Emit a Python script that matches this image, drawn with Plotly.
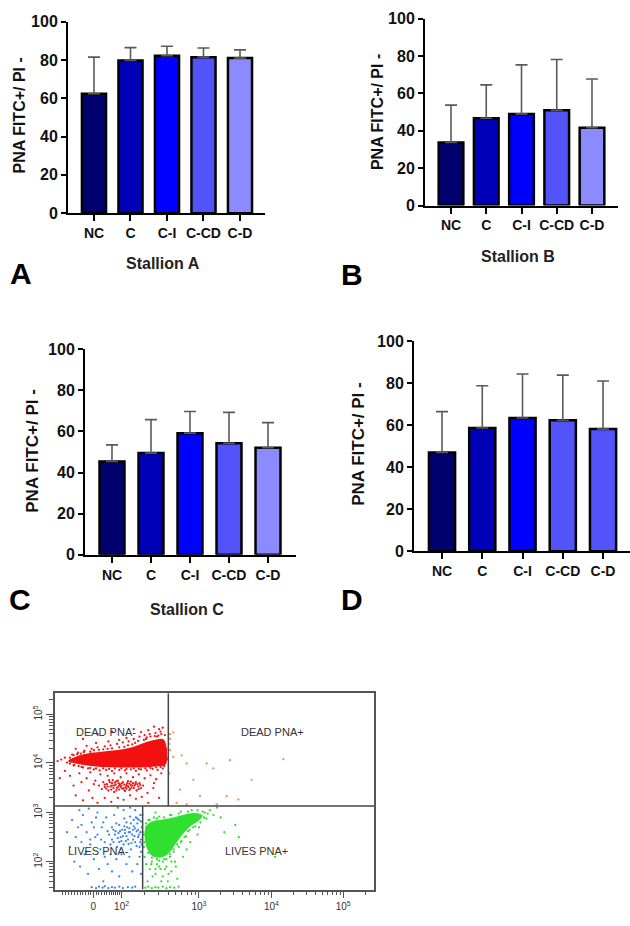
import math
import plotly.graph_objects as go

# ---------------- DATA ----------------
categories = ["NC", "C", "C-I", "C-CD", "C-D"]

stallion_a_mean = [62.4, 79.8, 82.2, 81.5, 81.0]
stallion_a_sd = [19.1, 6.7, 5.0, 4.8, 4.3]
stallion_b_mean = [33.7, 46.7, 49.0, 50.9, 41.6]
stallion_b_sd = [20.0, 17.8, 26.2, 27.2, 26.1]
stallion_c_mean = [45.4, 49.5, 59.2, 54.3, 52.1]
stallion_c_sd = [8.1, 16.3, 10.5, 15.0, 12.2]
stallion_d_mean = [47.0, 58.6, 63.4, 62.3, 58.1]
stallion_d_sd = [19.4, 20.1, 20.9, 21.5, 22.9]

bar_yticks = [0, 20, 40, 60, 80, 100]
y_title = "PNA FITC+/ PI -"

# Flow cytometry dot plot (axis units = display decades of the biexponential scale)
fc_xtick_vals = [1.543, 1.933, 3.0, 4.0, 4.99]
fc_xtick_text = ["0", "10<sup>2</sup>", "10<sup>3</sup>", "10<sup>4</sup>", "10<sup>5</sup>"]
fc_ytick_vals = [2.0, 3.0, 4.013, 5.0]
fc_ytick_text = ["10<sup>2</sup>", "10<sup>3</sup>", "10<sup>4</sup>", "10<sup>5</sup>"]
gate_pi = 3.133          # horizontal gate (PI)
gate_pna_dead = 2.577    # vertical gate, upper half
gate_pna_live = 2.223    # vertical gate, lower half
quadrant_labels = ["DEAD PNA-", "DEAD PNA+", "LIVES PNA-", "LIVES PNA+"]
quadrant_label_x = [1.717, 4.011, 1.611, 3.795]
quadrant_label_y = [4.633, 4.633, 2.213, 2.213]

# dense cores (outline of the saturated region)
red_core_x = [1.20, 1.30, 1.45, 1.65, 1.85, 2.05, 2.20, 2.35, 2.50, 2.54, 2.54, 2.40, 2.20, 1.90, 1.65, 1.45, 1.30, 1.20]
red_core_y = [4.07, 4.14, 4.20, 4.24, 4.27, 4.32, 4.40, 4.47, 4.50, 4.42, 3.98, 3.94, 3.92, 3.92, 3.93, 3.96, 4.00, 4.03]
green_core_x = [2.26, 2.35, 2.50, 2.65, 2.80, 2.95, 3.05, 3.00, 2.90, 2.80, 2.72, 2.64, 2.56, 2.45, 2.35, 2.28, 2.25]
green_core_y = [2.72, 2.82, 2.86, 2.90, 2.96, 2.99, 2.94, 2.84, 2.74, 2.60, 2.45, 2.28, 2.14, 2.08, 2.12, 2.28, 2.50]

red_x = [1.10, 1.15, 1.18, 1.25, 1.28, 1.33, 1.38, 1.42, 1.47, 1.52, 1.55, 1.60, 1.63, 1.70, 1.72, 1.78, 1.80, 1.87,
         1.90, 1.95, 1.98, 2.03, 2.06, 2.10, 2.13, 2.18, 2.20, 2.25, 2.28, 2.32, 2.36, 2.40, 2.43, 2.47, 2.50, 2.53,
         2.55, 2.56, 2.45, 2.38, 2.30, 2.20, 2.00, 1.90, 1.75, 1.58, 1.45, 1.30,
         1.62, 1.66, 1.68, 1.70, 1.73, 1.75, 1.76, 1.78, 1.80, 1.82, 1.83, 1.85, 1.86, 1.88, 1.90, 1.91, 1.93, 1.95,
         1.96, 1.98, 2.00, 2.01, 2.03, 2.05, 2.06, 2.08, 2.10, 2.12, 2.14, 2.16, 2.18, 2.20, 2.23, 1.80, 1.87, 1.92,
         1.97, 2.02, 2.07, 1.84, 1.94, 2.04,
         1.22, 1.27, 1.30, 1.35, 1.38, 1.40, 1.45, 1.48, 1.50, 1.53, 1.57, 1.60, 1.64, 1.70, 1.74, 1.79, 1.83, 1.88,
         1.92, 1.96, 2.00, 2.05, 2.09, 2.13, 2.17, 2.21, 2.25, 2.29, 2.33, 2.37, 2.41, 2.45, 2.48, 2.30, 1.15, 1.08,
         2.38, 1.55, 1.60, 1.80, 2.10, 2.42, 2.50, 2.27, 1.40, 1.05,
         1.22, 1.27, 1.32, 1.37, 1.41, 1.50, 1.55, 1.62, 1.68, 1.74, 1.80, 1.90, 1.97, 2.02, 2.08, 2.12, 2.16, 2.24,
         2.28, 2.33, 2.39, 2.44, 2.48,
         1.22, 1.27, 1.34, 1.40, 1.50, 1.58, 1.68, 1.76, 1.84, 1.93, 2.00, 2.10, 2.17, 2.26, 2.33, 2.41, 2.47, 2.52,
         1.70, 1.72, 1.77, 1.79, 1.81, 1.86, 1.89, 1.90, 1.94, 1.99, 2.00, 2.02, 2.04, 2.09, 2.11, 2.13, 2.15, 2.17,
         2.19, 1.74, 1.83, 1.97, 2.06, 1.88]
red_y = [4.08, 4.12, 4.02, 4.18, 3.97, 4.22, 3.93, 4.26, 3.90, 4.30, 3.88, 4.33, 3.86, 4.35, 3.87, 4.37, 3.85, 4.40,
         3.87, 4.43, 3.86, 4.45, 3.88, 4.50, 3.85, 4.55, 3.88, 4.58, 3.86, 4.60, 3.89, 4.62, 3.87, 4.65, 3.90, 4.58,
         4.30, 4.10, 4.70, 4.75, 4.68, 4.64, 4.52, 4.48, 4.45, 4.42, 4.36, 4.30,
         3.55, 3.48, 3.62, 3.52, 3.58, 3.45, 3.66, 3.53, 3.60, 3.50, 3.42, 3.57, 3.64, 3.52, 3.47, 3.58, 3.55, 3.62,
         3.50, 3.44, 3.56, 3.60, 3.52, 3.48, 3.63, 3.55, 3.50, 3.58, 3.45, 3.53, 3.60, 3.50, 3.55, 3.55, 3.50, 3.52,
         3.57, 3.54, 3.51, 3.61, 3.49, 3.59,
         3.75, 3.55, 3.35, 3.80, 3.62, 3.25, 3.70, 3.45, 3.82, 3.30, 3.65, 3.20, 3.78, 3.30, 3.75, 3.22, 3.80, 3.30,
         3.72, 3.26, 3.80, 3.35, 3.72, 3.28, 3.78, 3.32, 3.70, 3.40, 3.76, 3.50, 3.68, 3.30, 3.80, 3.20, 3.85, 3.70,
         3.60, 3.58, 4.60, 4.65, 4.70, 4.55, 4.73, 4.50, 4.50, 4.05,
         4.12, 4.17, 4.19, 4.20, 4.23, 4.24, 4.27, 4.28, 4.29, 4.30, 4.31, 4.33, 4.34, 4.37, 4.39, 4.42, 4.46, 4.48,
         4.53, 4.55, 4.56, 4.57, 4.60,
         4.00, 3.96, 3.95, 3.92, 3.91, 3.90, 3.90, 3.89, 3.90, 3.90, 3.89, 3.90, 3.89, 3.90, 3.91, 3.92, 3.93, 3.95,
         3.57, 3.49, 3.62, 3.47, 3.66, 3.45, 3.60, 3.55, 3.60, 3.52, 3.49, 3.64, 3.46, 3.60, 3.55, 3.62, 3.58, 3.48,
         3.56, 3.53, 3.55, 3.46, 3.56, 3.65]

orange_x = [2.60, 2.646, 2.60, 2.59, 2.60, 2.646, 2.761, 2.83, 3.106, 3.198, 3.428, 3.726, 4.163, 2.922, 3.014,
            3.382, 3.543, 2.738, 2.59, 3.244, 2.83, 2.69]
orange_y = [4.60, 4.633, 4.50, 4.40, 4.27, 4.133, 4.167, 4.00, 4.00, 3.90, 4.067, 3.667, 4.087, 3.667, 3.333,
            3.333, 3.267, 3.467, 3.80, 3.167, 3.167, 3.20]

blue_x = [1.76, 1.80, 1.82, 1.85, 1.87, 1.90, 1.92, 1.94, 1.96, 1.98, 2.00, 2.02, 2.04, 2.06, 2.08, 2.10, 2.12, 2.14,
          2.16, 2.17, 2.18, 2.19, 2.20, 2.21, 2.20, 2.15, 2.11, 2.07, 2.03, 1.99, 1.95, 1.91, 1.88, 1.84, 1.80, 2.13,
          2.05, 1.97, 2.19, 2.21, 2.18, 2.16, 2.09, 2.01,
          1.18, 1.22, 1.25, 1.28, 1.30, 1.33, 1.36, 1.38, 1.40, 1.42, 1.45, 1.47, 1.50, 1.52, 1.55, 1.57, 1.60, 1.62,
          1.64, 1.66, 1.68, 1.70, 1.72, 1.74, 1.78, 1.80, 1.83, 1.86, 1.90, 1.93, 1.96, 2.00, 2.04, 2.08, 2.12, 2.15,
          2.20, 1.58, 1.48, 1.35, 1.88, 2.05, 1.65,
          1.52, 1.58, 1.62, 1.67, 1.70, 1.75, 1.80, 1.84, 1.90, 1.95, 2.02, 2.08, 2.12,
          1.86, 1.89, 1.93, 1.97, 2.00, 2.03, 2.06, 2.09, 2.12, 2.14, 2.17, 2.20, 2.22, 2.22, 2.19, 2.15, 2.10, 2.05,
          1.98, 1.90, 1.82, 1.78, 1.74, 1.70, 1.68, 1.60, 1.55, 1.50, 1.44, 1.38]
blue_y = [2.55, 2.70, 2.40, 2.62, 2.30, 2.75, 2.50, 2.65, 2.35, 2.58, 2.80, 2.45, 2.68, 2.25, 2.55, 2.72, 2.40, 2.62,
          2.50, 2.85, 2.30, 2.60, 2.45, 2.70, 2.20, 2.78, 2.52, 2.38, 2.60, 2.42, 2.52, 2.62, 2.48, 2.55, 2.45, 2.90,
          2.92, 2.88, 2.95, 2.35, 2.10, 2.65, 2.65, 2.70,
          2.60, 2.30, 2.85, 2.00, 2.50, 2.70, 1.90, 2.40, 2.95, 2.15, 2.60, 1.75, 2.35, 2.80, 2.05, 2.50, 3.00, 1.85,
          2.25, 2.70, 1.60, 2.10, 2.90, 1.95, 2.15, 1.80, 2.95, 2.05, 1.70, 2.15, 3.05, 1.95, 2.10, 1.80, 3.05, 1.95,
          1.75, 2.90, 3.08, 3.05, 3.10, 3.10, 2.45,
          1.48, 1.46, 1.49, 1.47, 1.50, 1.46, 1.48, 1.47, 1.49, 1.46, 1.48, 1.47, 1.49,
          2.78, 2.58, 2.42, 2.72, 2.52, 2.36, 2.78, 2.45, 2.68, 2.32, 2.55, 2.82, 2.60, 2.95, 2.40, 2.88, 2.85, 2.60,
          2.65, 2.40, 2.65, 2.35, 2.62, 2.40, 2.80, 2.55, 2.70, 2.45, 2.20, 2.75]

green_x = [2.24, 2.25, 2.27, 2.30, 2.32, 2.35, 2.38, 2.40, 2.42, 2.45, 2.47, 2.50, 2.52, 2.55, 2.57, 2.60, 2.62, 2.65,
           2.67, 2.70, 2.72, 2.75, 2.78, 2.80, 2.85, 2.88, 2.92, 2.96, 3.00, 3.05, 3.10, 3.12, 3.15, 3.20, 2.90, 2.75,
           2.60, 2.45, 2.40, 3.30, 3.50, 3.35, 3.55, 4.05, 3.25, 2.98, 2.83, 2.68, 2.58, 2.48, 2.36, 2.29, 2.44, 2.33,
           2.26, 2.30, 2.55, 2.70, 2.58, 2.48,
           2.26, 2.30, 2.35, 2.40, 2.44, 2.50, 2.55, 2.60, 2.66, 2.72,
           2.27, 2.32, 2.42, 2.52, 2.62, 2.72, 2.85, 2.98, 3.08, 3.07, 3.02, 2.95, 2.87, 2.82, 2.76, 2.70, 2.65, 2.60,
           2.55, 2.50, 2.42, 2.35, 2.30, 2.25, 2.24, 2.45, 2.53, 2.40, 2.62, 2.34]
green_y = [2.30, 2.10, 1.95, 2.85, 1.85, 2.00, 2.90, 1.75, 1.95, 2.02, 1.85, 1.70, 2.05, 1.90, 1.60, 2.10, 1.80, 2.20,
           2.00, 1.65, 2.30, 2.40, 2.10, 2.50, 2.62, 2.40, 2.70, 2.85, 2.70, 3.02, 2.88, 2.98, 3.05, 2.95, 3.05, 3.02,
           2.95, 2.92, 3.00, 2.90, 2.75, 2.60, 2.50, 2.10, 3.10, 2.55, 2.25, 1.90, 1.75, 1.60, 1.70, 1.60, 2.25, 2.42,
           2.60, 2.72, 2.70, 2.60, 2.40, 2.50,
           1.47, 1.49, 1.46, 1.48, 1.47, 1.49, 1.46, 1.48, 1.47, 1.49,
           2.78, 2.85, 2.88, 2.90, 2.95, 2.98, 3.02, 3.05, 3.00, 2.90, 2.80, 2.72, 2.65, 2.52, 2.42, 2.35, 2.25, 2.15,
           2.05, 2.00, 2.05, 2.08, 2.18, 2.40, 2.55, 1.90, 1.85, 1.85, 2.00, 1.95]

# ---------------- STYLE ----------------
W, H = 630, 926
FONT = "Liberation Sans"
colors_abc = ["#00006E", "#0000B6", "#0000FF", "#5353FA", "#8B8BFF"]
colors_d = ["#00006E", "#0000B6", "#0000FF", "#5353FA", "#5353FA"]


def px_x(p):
    return p / W


def px_y(p):
    return 1 - p / H


panels = [
    dict(mean=stallion_a_mean, sd=stallion_a_sd, colors=colors_abc,
         xdom=[68, 265], ydom=[209, 14], xr=[-0.712, 4.685], bw=0.66,
         ytitle=(19.5, 110, 16), letter=("A", 21, 270), stallion=("Stallion A", 163, 260)),
    dict(mean=stallion_b_mean, sd=stallion_b_sd, colors=colors_abc,
         xdom=[425, 618], ydom=[201.3, 10.7], xr=[-0.738, 4.738], bw=0.7,
         ytitle=(377, 106, 16), letter=("B", 352, 271), stallion=("Stallion B", 518, 253)),
    dict(mean=stallion_c_mean, sd=stallion_c_sd, colors=colors_abc,
         xdom=[85, 296], ydom=[557, 347.7], xr=[-0.692, 4.718], bw=0.64,
         ytitle=(33, 451, 17), letter=("C", 20, 603), stallion=("Stallion C", 187, 613)),
    dict(mean=stallion_d_mean, sd=stallion_d_sd, colors=colors_d,
         xdom=[414, 630], ydom=[553.3, 339.3], xr=[-0.696, 4.67], bw=0.65,
         ytitle=(359, 444, 17), letter=("D", 352, 603), stallion=None),
]

fig = go.Figure()
annotations = []
layout_axes = {}

for i, p in enumerate(panels, start=1):
    xa = f"x{i}"
    ya = f"y{i}"
    fig.add_trace(go.Bar(
        x=categories, y=p["mean"], xaxis=xa, yaxis=ya, width=p["bw"],
        marker=dict(color=p["colors"], line=dict(color="#000000", width=2.5)),
        error_y=dict(type="data", array=p["sd"], arrayminus=[0] * len(p["sd"]), symmetric=False,
                     color="#5a5a5a", thickness=1.6, width=6),
        showlegend=False,
    ))
    layout_axes[f"xaxis{i}"] = dict(
        domain=[px_x(p["xdom"][0]), px_x(p["xdom"][1])], anchor=ya, type="category",
        range=p["xr"], showline=True, linecolor="#000000", linewidth=2,
        ticks="outside", ticklen=6, tickwidth=2, tickcolor="#000000",
        showgrid=False, zeroline=False,
        tickfont=dict(family=FONT, size=14, color="#111111", weight="bold"),
        fixedrange=True,
    )
    layout_axes[f"yaxis{i}"] = dict(
        domain=[px_y(p["ydom"][0]), px_y(p["ydom"][1])], anchor=xa,
        range=[0, 100], tickmode="array", tickvals=bar_yticks,
        showline=True, linecolor="#000000", linewidth=2,
        ticks="outside", ticklen=5, tickwidth=2, tickcolor="#000000",
        showgrid=False, zeroline=False,
        tickfont=dict(family=FONT, size=16, color="#111111", weight="bold"),
        fixedrange=True,
    )
    tx, ty, ts = p["ytitle"]
    annotations.append(dict(text=y_title, x=px_x(tx), y=px_y(ty), xref="paper", yref="paper",
                            textangle=-90, showarrow=False, xanchor="center", yanchor="middle",
                            font=dict(family=FONT, size=ts, color="#111111", weight="bold")))
    lt, lx, ly = p["letter"]
    annotations.append(dict(text=lt, x=px_x(lx), y=px_y(ly), xref="paper", yref="paper",
                            showarrow=False, xanchor="center", yanchor="middle",
                            font=dict(family=FONT, size=30, color="#000000", weight="bold")))
    if p["stallion"]:
        st, sx, sy = p["stallion"]
        annotations.append(dict(text=st, x=px_x(sx), y=px_y(sy), xref="paper", yref="paper",
                                showarrow=False, xanchor="center", yanchor="middle",
                                font=dict(family=FONT, size=16, color="#222222", weight="bold")))

# ---------------- Flow cytometry panel ----------------
fc_x, fc_y = "x5", "y5"
dot = dict(size=2.3, line=dict(width=0))

fig.add_trace(go.Scatter(x=blue_x, y=blue_y, mode="markers", xaxis=fc_x, yaxis=fc_y,
                         marker=dict(color="#3F86EE", **dot), showlegend=False))
fig.add_trace(go.Scatter(x=green_core_x, y=green_core_y, mode="lines", fill="toself",
                         fillcolor="#2FE02F", line=dict(width=0, color="#2FE02F", shape="spline"),
                         xaxis=fc_x, yaxis=fc_y, showlegend=False))
fig.add_trace(go.Scatter(x=green_x, y=green_y, mode="markers", xaxis=fc_x, yaxis=fc_y,
                         marker=dict(color="#2FE02F", **dot), showlegend=False))
fig.add_trace(go.Scatter(x=red_core_x, y=red_core_y, mode="lines", fill="toself",
                         fillcolor="#F21010", line=dict(width=0, color="#F21010", shape="spline"),
                         xaxis=fc_x, yaxis=fc_y, showlegend=False))
fig.add_trace(go.Scatter(x=red_x, y=red_y, mode="markers", xaxis=fc_x, yaxis=fc_y,
                         marker=dict(color="#F01818", **dot), showlegend=False))
fig.add_trace(go.Scatter(x=orange_x, y=orange_y, mode="markers", xaxis=fc_x, yaxis=fc_y,
                         marker=dict(color="#F39050", **dot), showlegend=False))

fc_xr = [1.014, 5.414]
fc_yr = [1.433, 5.433]

x_minor = [1.12, 1.16, 1.20, 1.24, 1.28, 1.32, 1.36, 1.40, 1.44, 1.48, 1.51, 1.58, 1.62, 1.66, 1.70, 1.73,
           1.76, 1.79, 1.82, 1.85, 1.88, 1.91]
x_minor += [1.933 + 1.067 * math.log10(k) for k in range(2, 10)]
x_minor += [3 + math.log10(k) for k in range(2, 10)]
x_minor += [4 + math.log10(k) for k in range(2, 10)]
x_minor += [5.301]
y_minor = [1 + math.log10(k) for k in range(3, 10)]
y_minor += [2 + math.log10(k) for k in range(2, 10)]
y_minor += [3 + math.log10(k) for k in range(2, 10)]
y_minor += [4 + math.log10(k) for k in range(2, 10)]
y_minor += [5.301]

layout_axes["xaxis5"] = dict(
    domain=[px_x(55), px_x(374)], anchor="y5", range=fc_xr,
    tickmode="array", tickvals=fc_xtick_vals, ticktext=fc_xtick_text,
    showline=True, mirror=True, linecolor="#555555", linewidth=1.5,
    ticks="outside", ticklen=7, tickwidth=1, tickcolor="#555555",
    minor=dict(tickmode="array", tickvals=x_minor, ticks="outside", ticklen=4, tickwidth=1,
               tickcolor="#555555", showgrid=False),
    showgrid=False, zeroline=False,
    tickfont=dict(family=FONT, size=10, color="#333333"), fixedrange=True,
)
layout_axes["yaxis5"] = dict(
    domain=[px_y(898), px_y(698)], anchor="x5", range=fc_yr,
    tickmode="array", tickvals=fc_ytick_vals, ticktext=fc_ytick_text, tickangle=-90,
    showline=True, mirror=True, linecolor="#555555", linewidth=1.5,
    ticks="outside", ticklen=7, tickwidth=1, tickcolor="#555555",
    minor=dict(tickmode="array", tickvals=y_minor, ticks="outside", ticklen=4, tickwidth=1,
               tickcolor="#555555", showgrid=False),
    showgrid=False, zeroline=False,
    tickfont=dict(family=FONT, size=10, color="#333333"), fixedrange=True,
)

shapes = [
    dict(type="line", xref="x5", yref="y5", x0=fc_xr[0], x1=fc_xr[1], y0=gate_pi, y1=gate_pi,
         line=dict(color="#444444", width=1.5)),
    dict(type="line", xref="x5", yref="y5", x0=gate_pna_dead, x1=gate_pna_dead, y0=gate_pi, y1=fc_yr[1],
         line=dict(color="#444444", width=1.5)),
    dict(type="line", xref="x5", yref="y5", x0=gate_pna_live, x1=gate_pna_live, y0=fc_yr[0], y1=gate_pi,
         line=dict(color="#444444", width=1.5)),
]

for t, qx, qy in zip(quadrant_labels, quadrant_label_x, quadrant_label_y):
    annotations.append(dict(text=t, x=qx, y=qy, xref="x5", yref="y5", showarrow=False,
                            xanchor="center", yanchor="middle",
                            font=dict(family=FONT, size=11, color="#333333")))

fig.update_layout(
    width=W, height=H, margin=dict(l=0, r=0, t=0, b=0),
    paper_bgcolor="#FFFFFF", plot_bgcolor="rgba(0,0,0,0)",
    showlegend=False, annotations=annotations, shapes=shapes,
    bargap=0.3,
    **layout_axes,
)

fig.write_html("out.html", config={"displayModeBar": False},
               post_script="document.body.style.margin='0';")
